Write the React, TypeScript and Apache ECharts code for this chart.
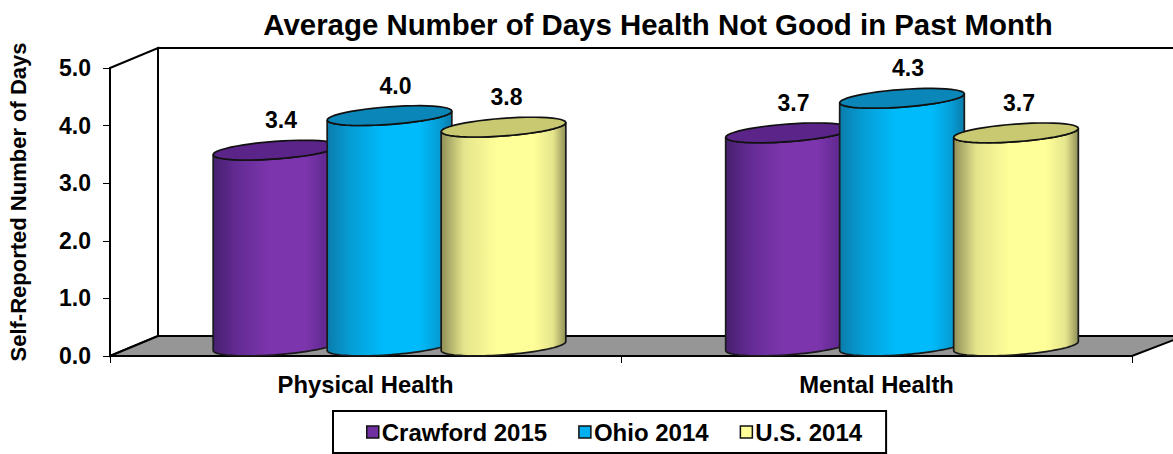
import React, { useEffect, useRef } from "react";
import * as echarts from "echarts";

const categories = ["Physical Health", "Mental Health"];
const seriesNames = ["Crawford 2015", "Ohio 2014", "U.S. 2014"];
const crawford = [3.4, 3.7];
const ohio = [4.0, 4.3];
const us = [3.8, 3.7];
const yTicks = { min: 0, max: 5, interval: 1 };
const FONT = "Liberation Sans, Arial, sans-serif";

const palette = [
  { edge: "#46206e", near: "#622a92", mid: "#7c35ac", top: "#5a2488", legend: "#7030a0", labelDx: 5.5 },
  { edge: "#0b7cab", near: "#069cd4", mid: "#00bbfb", top: "#0a86b8", legend: "#00b0f0", labelDx: 6 },
  { edge: "#8f8f58", near: "#e4e48c", mid: "#ffff99", top: "#c9c972", legend: "#ffff99", labelDx: 3 },
];

const DEPTH_X = 48;
const DEPTH_Y = -20;

function ellipsePts(cx: number, cy: number, a: number, b: number, from: number, to: number) {
  const theta = (4.2 * Math.PI) / 180;
  const n = 48;
  const pts: number[][] = [];
  for (let i = 0; i <= n; i++) {
    const t = from + ((to - from) * i) / n;
    pts.push([
      cx + a * Math.cos(t) * Math.cos(theta) + b * Math.sin(t) * Math.sin(theta),
      cy - a * Math.cos(t) * Math.sin(theta) + b * Math.sin(t) * Math.cos(theta),
    ]);
  }
  return pts;
}

function cylinderSeries(name: string, values: number[], idx: number) {
  const c = palette[idx];
  return {
    type: "custom",
    name,
    z: 3,
    silent: true,
    itemStyle: { color: c.legend },
    data: values.map((v, i) => [i, v]),
    encode: { x: 0, y: 1 },
    renderItem(_p: any, api: any) {
      const cat = api.value(0);
      const val = api.value(1);
      const band = api.size([1, 0])[0];
      const top = api.coord([cat, val]);
      const base = api.coord([cat, 0]);
      const cx = top[0] + DEPTH_X / 2 + ((idx - 1) * 114 * band) / 511 + cat * 1.5;
      const topY = top[1] + DEPTH_Y / 2;
      const baseY = base[1] + DEPTH_Y / 2;
      const a = (62.5 * band) / 511;
      const b = 8.8;
      const body = [
        ...ellipsePts(cx, baseY, a, b, Math.PI, 0),
        ...ellipsePts(cx, topY, a, b, 0, Math.PI),
      ];
      return {
        type: "group",
        children: [
          {
            type: "polygon",
            shape: { points: body },
            style: {
              fill: new echarts.graphic.LinearGradient(0, 0, 1, 0, [
                { offset: 0, color: c.edge },
                { offset: 0.18, color: c.near },
                { offset: 0.45, color: c.mid },
                { offset: 0.74, color: c.mid },
                { offset: 0.9, color: c.near },
                { offset: 1, color: c.edge },
              ]),
              stroke: "#1a1a1a",
              lineWidth: 1.7,
            },
          },
          {
            type: "polygon",
            shape: { points: ellipsePts(cx, topY, a, b, 0, Math.PI * 2) },
            style: { fill: c.top, stroke: "#111", lineWidth: 1.7 },
          },
          {
            type: "text",
            x: cx + c.labelDx,
            y: topY - 30,
            style: {
              text: val.toFixed(1),
              font: `bold 23px ${FONT}`,
              fill: "#000",
              textAlign: "center",
              textVerticalAlign: "middle",
            },
          },
        ],
      };
    },
  };
}

const frameSeries = {
  type: "custom",
  name: "frame",
  z: 1,
  silent: true,
  data: [[0, 0]],
  encode: { x: 0, y: 1 },
  renderItem(p: any, api: any) {
    const s = p.coordSys;
    const l = s.x;
    const r = s.x + s.width;
    const t = s.y;
    const bm = s.y + s.height;
    const style = { stroke: "#000", lineWidth: 2 };
    return {
      type: "group",
      children: [
        {
          type: "polygon",
          shape: { points: [[l, t], [l + DEPTH_X, t + DEPTH_Y], [l + DEPTH_X, bm + DEPTH_Y], [l, bm]] },
          style: { fill: "#fff", ...style },
        },
        {
          type: "polygon",
          shape: { points: [[l + DEPTH_X, t + DEPTH_Y], [r + DEPTH_X + 4, t + DEPTH_Y], [r + DEPTH_X + 4, bm + DEPTH_Y], [l + DEPTH_X, bm + DEPTH_Y]] },
          style: { fill: "#fff", ...style },
        },
        {
          type: "polygon",
          shape: { points: [[l, bm], [l + DEPTH_X, bm + DEPTH_Y], [r + DEPTH_X + 4, bm + DEPTH_Y], [r, bm]] },
          style: { fill: "#969696", ...style },
        },
      ],
    };
  },
};

export default function App() {
  const ref = useRef<HTMLDivElement>(null);
  useEffect(() => {
    document.body.style.margin = "0";
    const chart = echarts.init(ref.current!, null, { renderer: "svg" });
    chart.setOption({
      animation: false,
      backgroundColor: "#fff",
      title: {
        text: "Average Number of Days Health Not Good in Past Month",
        left: 658,
        textAlign: "center",
        top: 10,
        padding: 0,
        textStyle: { fontFamily: FONT, fontWeight: "bold", fontSize: 29.4, color: "#000" },
      },
      grid: { left: 110, right: 41, top: 68, bottom: 98 },
      xAxis: {
        type: "category",
        data: categories,
        z: 2,
        axisLine: { lineStyle: { color: "#000", width: 2 } },
        axisTick: { show: true, length: 7, lineStyle: { color: "#000", width: 1 } },
        axisLabel: { margin: 16, color: "#000", fontFamily: FONT, fontWeight: "bold", fontSize: 23.8 },
      },
      yAxis: {
        type: "value",
        ...yTicks,
        z: 2,
        splitLine: { show: false },
        axisLine: { show: true, lineStyle: { color: "#000", width: 2 } },
        axisTick: { show: true, length: 7, lineStyle: { color: "#000", width: 1 } },
        axisLabel: {
          margin: 19,
          color: "#000",
          fontFamily: FONT,
          fontWeight: "bold",
          fontSize: 23,
          formatter: (v: number) => v.toFixed(1),
        },
      },
      legend: {
        data: seriesNames.map((n, i) => ({
          name: n,
          icon: "rect",
          itemStyle: { color: palette[i].legend, borderColor: "#111", borderWidth: 1.5 },
        })),
        left: 333,
        top: 411,
        orient: "horizontal",
        itemWidth: 12,
        itemHeight: 12,
        itemGap: 31,
        padding: [9, 24, 9, 33],
        borderColor: "#000",
        borderWidth: 2,
        backgroundColor: "#fff",
        selectedMode: false,
        textStyle: { fontFamily: FONT, fontWeight: "bold", fontSize: 24, color: "#000", padding: [0, 0, 0, -2] },
      },
      graphic: [
        {
          type: "text",
          x: 18,
          y: 202,
          rotation: Math.PI / 2,
          style: {
            text: "Self-Reported Number of Days",
            font: `bold 22px ${FONT}`,
            fill: "#000",
            textAlign: "center",
            textVerticalAlign: "middle",
          },
        },
      ],
      series: [
        frameSeries,
        cylinderSeries(seriesNames[0], crawford, 0),
        cylinderSeries(seriesNames[1], ohio, 1),
        cylinderSeries(seriesNames[2], us, 2),
      ],
    });
    return () => chart.dispose();
  }, []);
  return <div ref={ref} style={{ width: 1173, height: 454 }} />;
}
